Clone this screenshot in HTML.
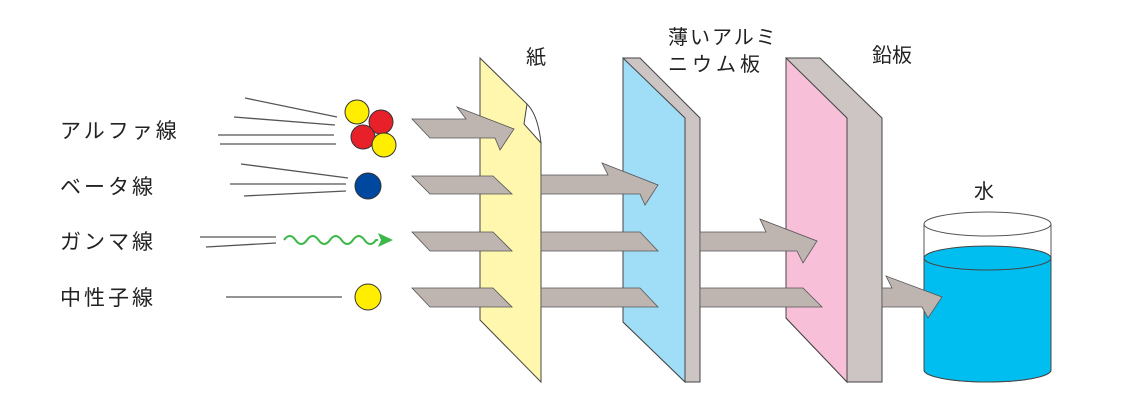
<!DOCTYPE html>
<html><head><meta charset="utf-8"><style>
html,body{margin:0;padding:0;background:#fff;}
svg{display:block;}
text{font-family:"Liberation Sans","Noto Sans CJK JP",sans-serif;fill:#222;}
</style></head><body>
<svg width="1145" height="410" viewBox="0 0 1145 410" xmlns="http://www.w3.org/2000/svg">
<rect width="1145" height="410" fill="#fff"/>
<g font-size="21" letter-spacing="3">
<text x="60" y="138">アルファ線</text>
<text x="60" y="194">ベータ線</text>
<text x="60" y="249">ガンマ線</text>
<text x="60" y="305">中性子線</text>
</g>
<g font-size="20">
<text x="526" y="64">紙</text>
<text x="668" y="44" letter-spacing="2">薄いアルミ</text>
<text x="668" y="71" letter-spacing="4">ニウム板</text>
<text x="872" y="62">鉛板</text>
<text x="974" y="198">水</text>
</g>
<g stroke="#555" stroke-width="1.3">
<line x1="245" y1="98" x2="337" y2="117"/>
<line x1="234" y1="117" x2="335" y2="125"/>
<line x1="218" y1="135" x2="334" y2="135"/>
<line x1="220" y1="144" x2="336" y2="144"/>
<line x1="241" y1="164" x2="348" y2="178"/>
<line x1="230" y1="184" x2="346" y2="184"/>
<line x1="244" y1="196" x2="346" y2="191"/>
<line x1="200" y1="237" x2="276" y2="237"/>
<line x1="206" y1="247" x2="276" y2="243"/>
<line x1="226" y1="297" x2="342" y2="297"/>
</g>
<g stroke="#333" stroke-width="1">
<circle cx="357" cy="112" r="12" fill="#ffee00"/>
<circle cx="381" cy="122" r="12" fill="#e8202a"/>
<circle cx="363" cy="137" r="12" fill="#e8202a"/>
<circle cx="384" cy="145" r="12" fill="#ffee00"/>
<circle cx="368" cy="186" r="13" fill="#0047a0"/>
<circle cx="368" cy="297" r="13" fill="#ffee00"/>
</g>
<path d="M284 240 q5.75 -8 11.5 0 t11.5 0 t11.5 0 t11.5 0 t11.5 0 t11.5 0 t11.5 0 t11.5 0 l2 0" fill="none" stroke="#3cb84a" stroke-width="2"/>
<polygon points="378,233 393,240 378,247 381,240" fill="#3cb84a"/>
<!-- paper -->
<polygon points="480,58 527,104 541,143 541,382 480,320" fill="#fff7ad" stroke="#444" stroke-width="1"/>
<path d="M527,104 L524,124 L541,143 Q538,115 527,104 Z" fill="#fff" stroke="#444" stroke-width="1"/>
<g fill="#beb5b0" stroke="#555" stroke-width="0.8">
<polygon points="412,119 466,119 457,107 514,129 500,150 495,138 430,138"/>
<polygon points="412,176 493,176 512,194 430,194"/>
<polygon points="412,232 493,232 512,251 430,251"/>
<polygon points="412,288 493,288 512,307 430,307"/>
</g>
<!-- aluminium plate -->
<polygon points="623,58 640,58 700,118 700,382 685,382 623,322" fill="#cdc5c3" stroke="#444" stroke-width="1"/>
<polygon points="623,58 685,118 685,382 623,322" fill="#a0ddf6" stroke="#444" stroke-width="1"/>
<g fill="#beb5b0" stroke="#555" stroke-width="0.8">
<polygon points="541,175 608,175 602,163 658,185 645,205 640,194 541,194"/>
<polygon points="541,232 640,232 658,251 541,251"/>
<polygon points="541,288 640,288 658,307 541,307"/>
</g>
<!-- lead plate -->
<polygon points="786,58 820,58 882,118 882,382 847,382 786,318" fill="#cdc5c3" stroke="#444" stroke-width="1"/>
<polygon points="786,58 847,118 847,382 786,318" fill="#f7bfd8" stroke="#444" stroke-width="1"/>
<g fill="#beb5b0" stroke="#555" stroke-width="0.8">
<polygon points="700,232 766,232 760,219 817,241 803,263 797,251 700,251"/>
<polygon points="700,288 803,288 822,307 700,307"/>
</g>
<!-- water container -->
<path d="M924,224 L924,370 A63.5,12 0 0 0 1051,370 L1051,224" fill="#fff" stroke="#555" stroke-width="1"/>
<path d="M924,258 L924,370 A63.5,12 0 0 0 1051,370 L1051,258 Z" fill="#00bff0" stroke="#444" stroke-width="1"/>
<ellipse cx="987.5" cy="258" rx="63.5" ry="12" fill="#00bff0" stroke="#444" stroke-width="1"/>
<ellipse cx="987.5" cy="224" rx="63.5" ry="12" fill="none" stroke="#555" stroke-width="1"/>
<polygon points="882,288 892,288 886,276 942,297 928,318 922,307 882,307" fill="#beb5b0" stroke="#555" stroke-width="0.8"/>
</svg>
</body></html>
